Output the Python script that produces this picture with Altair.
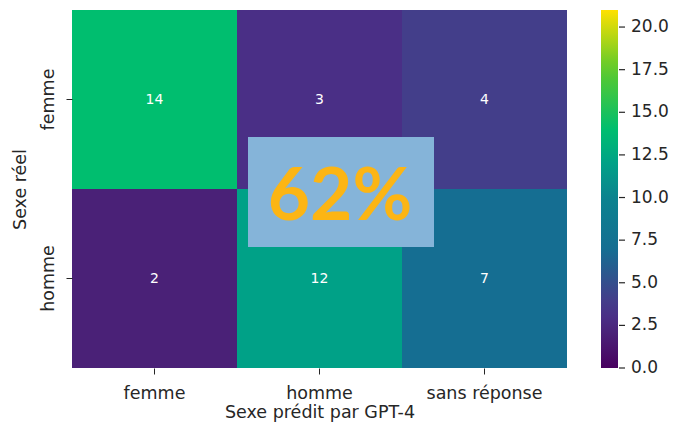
import altair as alt
import pandas as pd

rows = ["femme", "homme"]
cols = ["femme", "homme", "sans réponse"]
counts = [[14, 3, 4], [2, 12, 7]]

cbar_ticks = [0, 2.5, 5, 7.5, 10, 12.5, 15, 17.5, 20]
color_stops = [0, 2, 3, 4, 7, 10, 12, 14, 17.5, 21]
color_range = ["#48005f", "#4a2177", "#4a2f86", "#433e8a", "#156e92",
               "#0b838f", "#00a187", "#00be6f", "#5cca2c", "#ffe100"]

annot_label = ["62%"]

records = []
for i, r in enumerate(rows):
    for j, c in enumerate(cols):
        records.append({"real": r, "pred": c, "n": counts[i][j]})
df = pd.DataFrame(records)

FONT = "DejaVu Sans"
FS = 17.5
TXT = "#262626"
W, H = 495, 358

cscale = alt.Scale(domain=color_stops, range=color_range, interpolate="rgb")

x_enc = alt.X("pred:N", sort=cols,
              scale=alt.Scale(paddingInner=0, paddingOuter=0),
              axis=alt.Axis(title="Sexe prédit par GPT-4", labelAngle=0,
                            tickSize=6, labelPadding=10, titlePadding=2))
y_enc = alt.Y("real:N", sort=rows,
              scale=alt.Scale(paddingInner=0, paddingOuter=0),
              axis=alt.Axis(title="Sexe réel", labelAngle=-90,
                            labelAlign="center", labelBaseline="bottom",
                            tickSize=6, labelPadding=9, titlePadding=10))

heat = alt.Chart(df).mark_rect().encode(
    x=x_enc,
    y=y_enc,
    color=alt.Color("n:Q", scale=cscale,
                    legend=alt.Legend(orient="none", legendX=529, legendY=0,
                                      direction="vertical", title=None,
                                      type="gradient",
                                      gradientLength=H, gradientThickness=17,
                                      gradientStrokeWidth=0, padding=0,
                                      values=cbar_ticks, labelExpr="''",
                                      labelOffset=0, labelFontSize=1)),
)

labels = alt.Chart(df).mark_text(color="white", font=FONT, fontSize=14).encode(
    x=alt.X("pred:N", sort=cols),
    y=alt.Y("real:N", sort=rows),
    text="n:Q",
)

grid = alt.layer(heat, labels)

cbar_df = pd.DataFrame({"v": cbar_ticks})
cbar_y = alt.Y("v:Q", scale=alt.Scale(domain=[0, 21]), axis=None)

cbar_ticks_layer = alt.Chart(cbar_df).mark_rule(
    color=TXT, strokeWidth=1.2
).encode(
    y=cbar_y,
    x=alt.value(547),
    x2=alt.value(553),
)

cbar_labels = alt.Chart(cbar_df).transform_calculate(
    lab="format(datum.v, '.1f')"
).mark_text(
    color=TXT, font=FONT, fontSize=17, align="left", baseline="middle"
).encode(
    y=cbar_y,
    x=alt.value(559),
    text="lab:N",
)

cbar = alt.layer(cbar_ticks_layer, cbar_labels)

box = alt.Chart(pd.DataFrame({"t": annot_label})).mark_rect(
    color="#85b4d9"
).encode(
    x=alt.value(176), x2=alt.value(362),
    y=alt.value(127), y2=alt.value(237),
)

big = alt.Chart(pd.DataFrame({"t": annot_label})).mark_text(
    color="#fcb514", font="Lato", fontWeight="bold", fontSize=73,
    align="center", baseline="alphabetic"
).encode(
    x=alt.value(268), y=alt.value(210), text="t:N"
)

chart = alt.layer(grid, cbar, box, big).resolve_scale(
    y="independent"
).properties(
    width=W, height=H,
    autosize=alt.AutoSizeParams(type="none"),
    padding={"left": 64, "top": 2, "right": 102, "bottom": 55},
).configure_view(strokeWidth=0).configure_axis(
    domain=False, labelFont=FONT, titleFont=FONT, labelFontSize=FS,
    titleFontSize=FS, labelColor=TXT, titleColor=TXT, tickColor=TXT,
    titleFontWeight="normal", grid=False
)

chart.save("out.html", embed_options={"renderer": "svg", "actions": False})
